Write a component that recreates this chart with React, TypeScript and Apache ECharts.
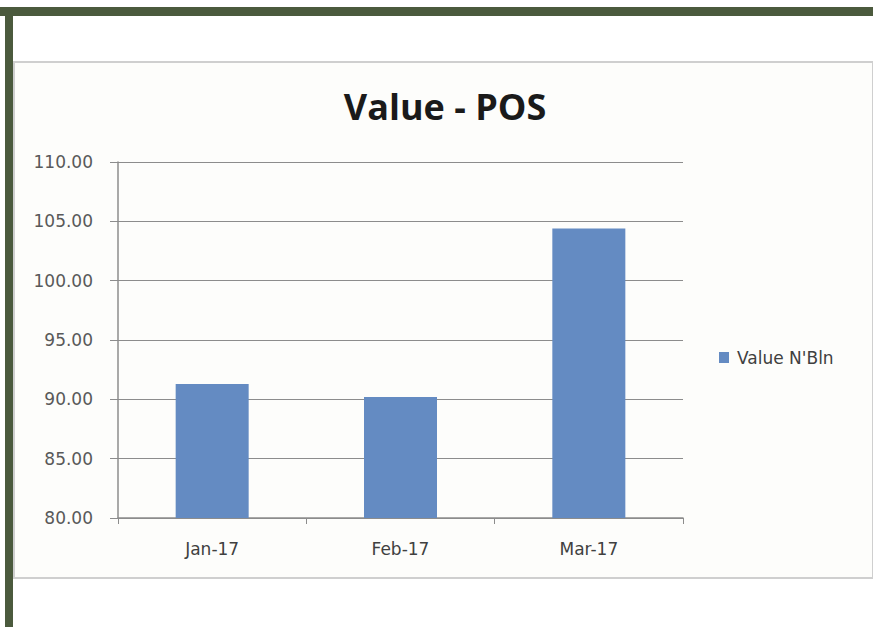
import React, { useEffect, useRef } from "react";
import * as echarts from "echarts";

const categories = ["Jan-17", "Feb-17", "Mar-17"];
const seriesName = "Value N'Bln";
const values = [91.3, 90.2, 104.4];
const yMin = 80;
const yMax = 110;
const yStep = 5;

export default function App() {
  const ref = useRef<HTMLDivElement>(null);
  useEffect(() => {
    if (!ref.current) return;
    const chart = echarts.init(ref.current, undefined, { renderer: "svg" });
    const axisGrey = "#8c8c8c";
    const labelFont = "DejaVu Sans";
    chart.setOption({
      animation: false,
      backgroundColor: "#ffffff",
      textStyle: { fontFamily: labelFont },
      graphic: [
        { type: "rect", shape: { x: 14, y: 62, width: 859, height: 516 }, style: { fill: "#fdfdfb", stroke: "#cfcfcf", lineWidth: 2 }, z: -10 },
        { type: "rect", shape: { x: 0, y: 7, width: 873, height: 9 }, style: { fill: "#4b5a3d" }, z: 10 },
        { type: "rect", shape: { x: 5, y: 7, width: 8, height: 620 }, style: { fill: "#4b5a3d" }, z: 10 },
        {
          type: "text",
          x: 445,
          y: 106,
          style: {
            text: "Value - POS",
            fontSize: 36,
            fontWeight: "bold",
            fontFamily: "Open Sans",
            fill: "#1a1a1a",
            textAlign: "center",
            textVerticalAlign: "middle",
          },
        },
      ],
      legend: {
        data: [seriesName],
        left: 719,
        top: 349,
        padding: 0,
        icon: "rect",
        itemWidth: 10,
        itemHeight: 11,
        itemGap: 5,
        itemStyle: { borderWidth: 0 },
        textStyle: { fontSize: 17, color: "#404040", fontFamily: labelFont, padding: [0, 0, 0, 3] },
      },
      grid: { left: 118, top: 162, right: 190, bottom: 109, containLabel: false },
      xAxis: {
        type: "category",
        data: categories,
        boundaryGap: true,
        axisLine: { show: true, lineStyle: { color: axisGrey, width: 1.5 } },
        axisTick: { show: true, length: 6, lineStyle: { color: axisGrey } },
        axisLabel: { fontSize: 17, color: "#404040", margin: 22, fontFamily: labelFont },
      },
      yAxis: {
        type: "value",
        min: yMin,
        max: yMax,
        interval: yStep,
        axisLine: { show: true, lineStyle: { color: axisGrey, width: 1.5 } },
        axisTick: { show: true, length: 8, lineStyle: { color: axisGrey } },
        axisLabel: {
          fontSize: 17,
          color: "#595959",
          margin: 25,
          fontFamily: labelFont,
          formatter: (v: number) => v.toFixed(2),
        },
        splitLine: { show: true, lineStyle: { color: axisGrey, width: 1.2 } },
      },
      series: [
        {
          name: seriesName,
          type: "bar",
          data: values,
          barWidth: 73,
          itemStyle: { color: "#648bc2" },
        },
      ],
    });
    return () => chart.dispose();
  }, []);
  return (
    <div
      ref={ref}
      style={{ position: "fixed", left: 0, top: 0, width: 873, height: 627 }}
    />
  );
}
